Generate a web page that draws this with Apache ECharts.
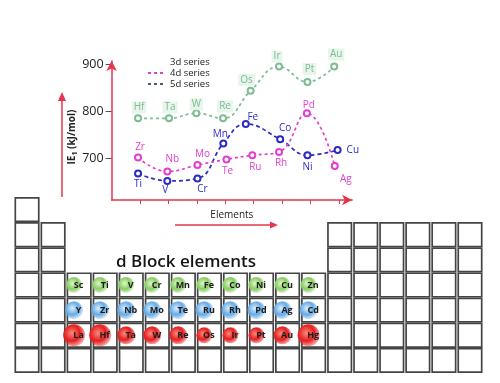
<!DOCTYPE html>
<html><head><meta charset="utf-8">
<script src="https://cdn.jsdelivr.net/npm/echarts@6/dist/echarts.min.js"></script>
<style>html,body{margin:0;padding:0;background:#fff}#c{width:500px;height:383px}</style>
</head><body><div id="c"></div>
<script>
// ---------- data ----------
const yTickValues = [700, 800, 900];
const xTickValues = [1, 2, 3, 4, 5, 6, 7, 8];

const names3d = ['Ti', 'V', 'Cr', 'Mn', 'Fe', 'Co', 'Ni', 'Cu'];
const pos3d   = [0.93, 1.96, 3.02, 3.93, 4.72, 5.93, 6.89, 7.95];
const ie3d    = [667, 651, 656, 731, 773, 740, 706, 717];

const names4d = ['Zr', 'Nb', 'Mo', 'Te', 'Ru', 'Rh', 'Pd', 'Ag'];
const pos4d   = [0.93, 1.96, 3.02, 4.04, 4.95, 5.89, 6.87, 7.85];
const ie4d    = [701, 671, 685, 697, 706, 713, 796, 683];

const names5d = ['Hf', 'Ta', 'W', 'Re', 'Os', 'Ir', 'Pt', 'Au'];
const pos5d   = [0.93, 2.02, 2.98, 3.92, 4.89, 5.89, 6.89, 7.83];
const ie5d    = [785, 785, 796, 785, 844, 896, 863, 896];

const seriesNames = ['3d series', '4d series', '5d series'];

// periodic table: columns present in each row (row 1..7)
const tableRowCols = [
  [1],
  [1, 2, 13, 14, 15, 16, 17, 18],
  [1, 2, 13, 14, 15, 16, 17, 18],
  [1, 2, 3, 4, 5, 6, 7, 8, 9, 10, 11, 12, 13, 14, 15, 16, 17, 18],
  [1, 2, 3, 4, 5, 6, 7, 8, 9, 10, 11, 12, 13, 14, 15, 16, 17, 18],
  [1, 2, 3, 4, 5, 6, 7, 8, 9, 10, 11, 12, 13, 14, 15, 16, 17, 18],
  [1, 2, 3, 4, 5, 6, 7, 8, 9, 10, 11, 12, 13, 14, 15, 16, 17, 18]
];
const dBlockRow4 = ['Sc', 'Ti', 'V', 'Cr', 'Mn', 'Fe', 'Co', 'Ni', 'Cu', 'Zn'];
const dBlockRow5 = ['Y', 'Zr', 'Nb', 'Mo', 'Te', 'Ru', 'Rh', 'Pd', 'Ag', 'Cd'];
const dBlockRow6 = ['La', 'Hf', 'Ta', 'W', 'Re', 'Os', 'Ir', 'Pt', 'Au', 'Hg'];
const dBlockFirstCol = 3;
const dBlockFirstRow = 4;
const titleText = 'd Block elements';

// ---------- styles (kept apart from data) ----------
const RED = '#e8344c';
const C3 = '#2c2cc0', C4 = '#e23fcf', C5 = '#7dbb93';
const label3d = [['bottom',[0,0]],['bottom',[-2,-2]],['bottom',[5,0]],['top',[-3,2]],['top',[7,4]],['top',[5,0]],['bottom',[0,1]],['right',[3,0]]];
const label4d = [['top',[2,1]],['top',[5,-1]],['top',[5,0]],['bottom',[1,1]],['bottom',[3,1]],['bottom',[2,0]],['top',[2,3]],['bottom',[11,2]]];
const label5d = [['top',[1,1]],['top',[1,1]],['top',[0,3]],['top',[2,0]],['top',[-4,1]],['top',[-2,2]],['top',[2,-1]],['top',[2,0]]];
const sphereRadius6 = [11, 11, 9, 9, 9, 8, 8, 8, 9, 11];
const FONT = '"Open Sans", "Liberation Sans", sans-serif';

function lineData(pos, vals, names, lab) {
  return pos.map((x, i) => ({
    name: names[i], value: [x, vals[i]],
    label: { position: lab[i][0], offset: lab[i][1] }
  }));
}
function lineSeries(name, color, dash, data, bg) {
  return {
    type: 'line', name, data, xAxisIndex: 0, yAxisIndex: 0, smooth: 0.45,
    symbol: 'emptyCircle', symbolSize: 6, z: 5,
    lineStyle: { color, width: 1.7, type: dash },
    itemStyle: { color, borderWidth: 1.5 },
    label: { show: true, formatter: '{b}', color, fontSize: 10, distance: 2, fontFamily: FONT,
             backgroundColor: bg || 'transparent', padding: bg ? [1, 2] : 0 },
    emphasis: { disabled: true }
  };
}

const cellData = [];
tableRowCols.forEach((cols, r) => cols.forEach(c => cellData.push([c, r + 1])));
const dRows = [dBlockRow4, dBlockRow5, dBlockRow6];
const sphereData = [];
dRows.forEach((row, ri) => row.forEach((s, ci) => sphereData.push([dBlockFirstCol + ci, dBlockFirstRow + ri, ci])));

const sphereStyles = [
  { r: 8, stops: ['#e2f5d2', '#88cd60', 'rgba(136,205,96,0.15)'] },
  { r: 9, stops: ['#dbeefc', '#66abe6', 'rgba(102,171,230,0.15)'] },
  { r: 10, stops: ['#f88a7f', '#e61e1e', 'rgba(230,30,30,0.3)'] }
];

const chart = echarts.init(document.getElementById('c'), null, { renderer: 'canvas' });
chart.setOption({
  animation: false,
  textStyle: { fontFamily: FONT },
  title: {
    text: titleText, left: 111, top: 249,
    textStyle: { fontSize: 17, fontWeight: 600, color: '#151515', fontFamily: FONT }
  },
  legend: {
    orient: 'vertical', left: 147, top: 57, itemWidth: 17, itemHeight: 8, itemGap: 1, padding: 0,
    textStyle: { fontSize: 9.5, color: '#222', fontFamily: FONT },
    itemStyle: { opacity: 0 },
    data: [
      { name: seriesNames[0], lineStyle: { opacity: 0 } },
      { name: seriesNames[1] },
      { name: seriesNames[2], lineStyle: { color: '#4a5a7a' } }
    ]
  },
  grid: [
    { left: 111.6, top: 61, width: 240.5, height: 139 },
    { left: 14, top: 197, width: 469, height: 176 }
  ],
  xAxis: [
    { type: 'value', gridIndex: 0, min: 0, max: 8.46, splitLine: { show: false },
      axisLine: { lineStyle: { color: RED, width: 1.5 }, symbol: ['none', 'arrow'], symbolSize: [8, 10] },
      axisTick: { show: true, customValues: xTickValues, length: 4, lineStyle: { color: RED, width: 1 } },
      axisLabel: { show: false },
      name: 'Elements', nameLocation: 'middle', nameGap: 10,
      nameTextStyle: { fontSize: 10, color: '#222', fontFamily: FONT } },
    { type: 'value', gridIndex: 1, min: 0, max: 18, show: false }
  ],
  yAxis: [
    { type: 'value', gridIndex: 0, min: 610, max: 908, splitLine: { show: false },
      axisLine: { show: true, lineStyle: { color: RED, width: 1.5 }, symbol: ['none', 'arrow'], symbolSize: [8, 10] },
      axisTick: { show: true, customValues: yTickValues, length: 6, lineStyle: { color: '#555', width: 1 } },
      axisLabel: { customValues: yTickValues, fontSize: 12.5, color: '#222', margin: 8, fontFamily: FONT } },
    { type: 'value', gridIndex: 1, min: 0, max: 7, inverse: true, show: false }
  ],
  graphic: [
    { type: 'line', shape: { x1: 62, y1: 197, x2: 62, y2: 100 }, style: { stroke: RED, lineWidth: 1.5 } },
    { type: 'polygon', shape: { points: [[58, 101], [66, 101], [62, 92]] }, style: { fill: RED } },
    { type: 'line', shape: { x1: 175, y1: 225, x2: 271, y2: 225 }, style: { stroke: RED, lineWidth: 1.5 } },
    { type: 'polygon', shape: { points: [[270, 221.5], [270, 228.5], [278, 225]] }, style: { fill: RED } },
    { type: 'text', x: 72, y: 137, rotation: Math.PI / 2,
      style: { text: '{a|IE}{b|1}{a| (kJ/mol)}', align: 'center', verticalAlign: 'middle',
        rich: { a: { fontSize: 10, fontWeight: 'bold', fill: '#222', fontFamily: FONT },
                b: { fontSize: 7, fontWeight: 'bold', fill: '#222', fontFamily: FONT, padding: [6, 0, 0, 0] } } } }
  ],
  series: [
    {
      type: 'custom', name: 'cells', xAxisIndex: 1, yAxisIndex: 1, data: cellData, silent: true, z: 1,
      renderItem(params, api) {
        const c = api.value(0), r = api.value(1);
        const p = api.coord([c - 1, r - 1]);
        const s = api.size([1, 1]);
        return { type: 'rect', shape: { x: p[0] + 1.3, y: p[1] + 0.8, width: s[0] - 2.6, height: s[1] - 1.6 },
                 style: { fill: '#fff', stroke: '#454545', lineWidth: 1.7 } };
      }
    },
    {
      type: 'custom', name: 'dblock', xAxisIndex: 1, yAxisIndex: 1, data: sphereData, silent: true, z: 2,
      renderItem(params, api) {
        const c = api.value(0), r = api.value(1), i = api.value(2);
        const p = api.coord([c - 1, r - 1]);
        const s = api.size([1, 1]);
        const k = r - dBlockFirstRow;
        const st = sphereStyles[k];
        const rad = k === 2 ? sphereRadius6[i] : st.r;
        const cy = p[1] + s[1] / 2;
        return { type: 'group', children: [
          { type: 'circle', shape: { cx: p[0] + 8, cy: cy, r: rad },
            style: { fill: new echarts.graphic.RadialGradient(0.4, 0.4, 0.65, [
              { offset: 0, color: st.stops[0] }, { offset: 0.55, color: st.stops[1] }, { offset: 1, color: st.stops[2] }]) } },
          { type: 'text', style: { text: dRows[k][i], x: p[0] + 12.5, y: cy + 0.5,
              align: 'center', verticalAlign: 'middle', fontSize: 9, fontWeight: 'bold', fill: '#1c1c1c', fontFamily: FONT } }
        ] };
      }
    },
    lineSeries(seriesNames[0], C3, [4, 3], lineData(pos3d, ie3d, names3d, label3d)),
    lineSeries(seriesNames[1], C4, [3, 3], lineData(pos4d, ie4d, names4d, label4d)),
    lineSeries(seriesNames[2], C5, [3, 3], lineData(pos5d, ie5d, names5d, label5d), 'rgba(225,243,230,0.8)')
  ]
});
</script>
</body></html>
